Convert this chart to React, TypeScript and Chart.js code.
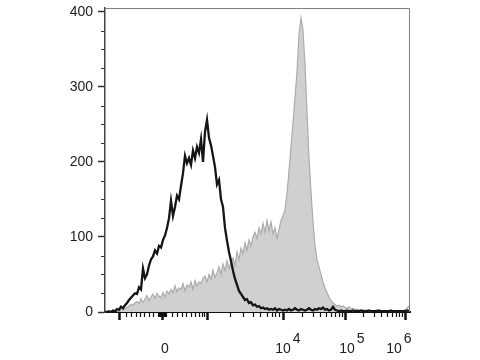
import { useEffect, useRef } from "react";
import { Chart, registerables } from "chart.js";

Chart.register(...registerables);

// Bin index (each bin = one channel step on the display axis)
const blackCounts = [
  0, 0, 1, 0, 2, 1, 4, 3, 7, 5,
  9, 12, 16, 19, 22, 25, 24, 33, 30, 58,
  45, 50, 62, 70, 74, 82, 78, 88, 86, 96,
  102, 112, 125, 148, 128, 140, 155, 150, 168, 185,
  208, 198, 205, 196, 215, 205, 220, 212, 230, 200,
  240, 256, 232, 222, 208, 193, 170, 176, 150, 140,
  112, 95, 80, 68, 55, 44, 36, 28, 24, 20,
  16, 17, 12, 13, 9, 10, 7, 8, 5, 6,
  4, 5, 3, 4, 3, 5, 2, 4, 3, 2,
  3, 2, 4, 2, 3, 5, 3, 2, 4, 3,
  2, 3, 5, 3, 2, 4, 3, 5, 4, 6,
  3, 4, 2, 3, 7, 3, 2, 1, 2, 1,
  1, 2, 1, 1, 2, 1, 1, 1, 2, 1,
  1, 1, 2, 1, 1, 1, 1, 2, 1, 1,
  1, 1, 1, 2, 1, 1, 1, 1, 1, 1,
  1, 2, 1,
];

const grayCounts = [
  0, 0, 0, 0, 0, 0, 0, 1, 2, 3,
  4, 6, 8, 10, 9, 12, 14, 11, 18, 13,
  17, 22, 15, 20, 24, 18, 25, 21, 19, 26,
  20, 28, 24, 30, 26, 35, 27, 32, 30, 38,
  28, 36, 33, 40, 30, 42, 35, 40, 38, 45,
  48, 40, 50, 44, 56, 46, 52, 60, 50, 64,
  55, 68, 58, 66, 72, 62, 80, 70, 85, 78,
  92, 82, 96, 88, 100, 106, 98, 112, 104, 118,
  106, 122, 108, 120, 104, 112, 98, 110, 122, 128,
  136, 158, 188, 220, 252, 285, 320, 370, 392, 375,
  330, 265, 205, 160, 120, 88, 70, 60, 50, 40,
  32, 26, 20, 15, 12, 10, 8, 9, 7, 8,
  6, 5, 7, 4, 5, 3, 4, 3, 2, 3,
  2, 3, 2, 2, 1, 2, 3, 2, 1, 2,
  2, 1, 2, 1, 2, 1, 1, 2, 1, 2,
  3, 5, 8,
];

const xMin = 0;
const xMax = 152.5;
const xMajorTicks = [7, 28.5, 51, 89, 120, 150];
const xMinorTicks = [
  10.5, 13, 15.5, 17.5, 19.5, 22, 24,
  26.5, 27, 27.5, 28, 29, 29.5, 30, 30.5,
  33.5, 36, 38.5, 40.5, 43, 45, 47, 48.5, 49.5,
  62.5, 69, 74, 77.5, 81, 83.5, 85, 87,
  98.5, 104, 107.5, 110.5, 113, 115, 117, 118.5,
  129, 134.5, 138, 141, 143.5, 145.5, 147, 148.5,
];
const xLabelAt = [30, 89, 121, 144.5];
const xLabelBase = ["0", "10", "10", "10"];
const xLabelExp = ["", "4", "5", "6"];

const yMin = 0;
const yMax = 405;
const yMajorTicks = [0, 100, 200, 300, 400];
const yMinorTicks = [25, 50, 75, 125, 150, 175, 225, 250, 275, 325, 350, 375];

const FONT = '"Liberation Sans", Arial, sans-serif';

const decorPlugin = {
  id: "decor",
  afterDraw(chart: any) {
    const ctx = chart.ctx;
    const { left, right, top, bottom } = chart.chartArea;
    const xs = chart.scales.x;
    const ys = chart.scales.y;
    ctx.save();
    ctx.strokeStyle = "#808080";
    ctx.lineWidth = 1;
    ctx.beginPath();
    ctx.moveTo(left, top + 0.5);
    ctx.lineTo(right - 0.5, top + 0.5);
    ctx.lineTo(right - 0.5, bottom);
    ctx.stroke();
    ctx.strokeStyle = "#333";
    ctx.lineWidth = 1;
    for (const v of yMinorTicks) {
      const py = Math.round(ys.getPixelForValue(v)) + 0.5;
      ctx.beginPath();
      ctx.moveTo(left - 4, py);
      ctx.lineTo(left, py);
      ctx.stroke();
    }
    ctx.strokeStyle = "#111";
    ctx.lineWidth = 1.2;
    for (const v of xMinorTicks) {
      const px = Math.round(xs.getPixelForValue(v)) + 0.5;
      ctx.beginPath();
      ctx.moveTo(px, bottom);
      ctx.lineTo(px, bottom + 5);
      ctx.stroke();
    }
    ctx.font = `14px ${FONT}`;
    ctx.fillStyle = "#222";
    ctx.textBaseline = "alphabetic";
    xLabelAt.forEach((v, i) => {
      const px = xs.getPixelForValue(v);
      const base = xLabelBase[i];
      const w = ctx.measureText(base).width;
      ctx.textAlign = "center";
      ctx.fillText(base, px, 353);
      if (xLabelExp[i]) {
        ctx.textAlign = "left";
        ctx.fillText(xLabelExp[i], px + w / 2 + 2, 343);
      }
    });
    ctx.restore();
  },
};

export default function App() {
  const ref = useRef<HTMLCanvasElement>(null);
  useEffect(() => {
    const chart = new Chart(ref.current as HTMLCanvasElement, {
      type: "line",
      data: {
        datasets: [
          {
            label: "Stained",
            data: blackCounts.map((y, i) => ({ x: i, y })),
            borderColor: "#151515",
            borderWidth: 2.3,
            fill: false,
            pointRadius: 0,
          },
          {
            label: "Control",
            data: grayCounts.map((y, i) => ({ x: i, y })),
            borderColor: "#acacac",
            backgroundColor: "#d0d0d0",
            borderWidth: 1.2,
            fill: "origin",
            pointRadius: 0,
          },
        ],
      },
      options: {
        responsive: false,
        animation: false,
        layout: { padding: { top: 8, right: 70, left: 0, bottom: 0 } },
        plugins: { legend: { display: false }, tooltip: { enabled: false } },
        elements: { line: { tension: 0 }, point: { radius: 0 } },
        scales: {
          x: {
            type: "linear",
            min: xMin,
            max: xMax,
            afterBuildTicks: (s: any) => {
              s.ticks = xMajorTicks.map((v) => ({ value: v }));
            },
            ticks: { display: false },
            grid: {
              drawOnChartArea: false,
              drawTicks: true,
              tickLength: 8,
              tickWidth: 2.5,
              tickColor: "#111",
            },
            border: { color: "#111", width: 2 },
            afterFit: (s: any) => {
              s.height = 48;
              s.paddingLeft = 0;
              s.paddingRight = 0;
            },
          },
          y: {
            type: "linear",
            min: yMin,
            max: yMax,
            afterBuildTicks: (s: any) => {
              s.ticks = yMajorTicks.map((v) => ({ value: v }));
            },
            ticks: {
              color: "#222",
              padding: 5,
              font: { family: FONT, size: 14 },
            },
            grid: {
              drawOnChartArea: false,
              drawTicks: true,
              tickLength: 7,
              tickWidth: 1.5,
              tickColor: "#333",
            },
            border: { color: "#444", width: 1.5 },
            afterFit: (s: any) => {
              s.width = 105;
              s.paddingTop = 0;
              s.paddingBottom = 0;
            },
          },
        },
      },
      plugins: [decorPlugin],
    });
    return () => chart.destroy();
  }, []);
  return (
    <div style={{ position: "fixed", left: 0, top: 0, width: 480, height: 360, background: "#fff" }}>
      <canvas ref={ref} width={480} height={360} style={{ display: "block" }} />
    </div>
  );
}
